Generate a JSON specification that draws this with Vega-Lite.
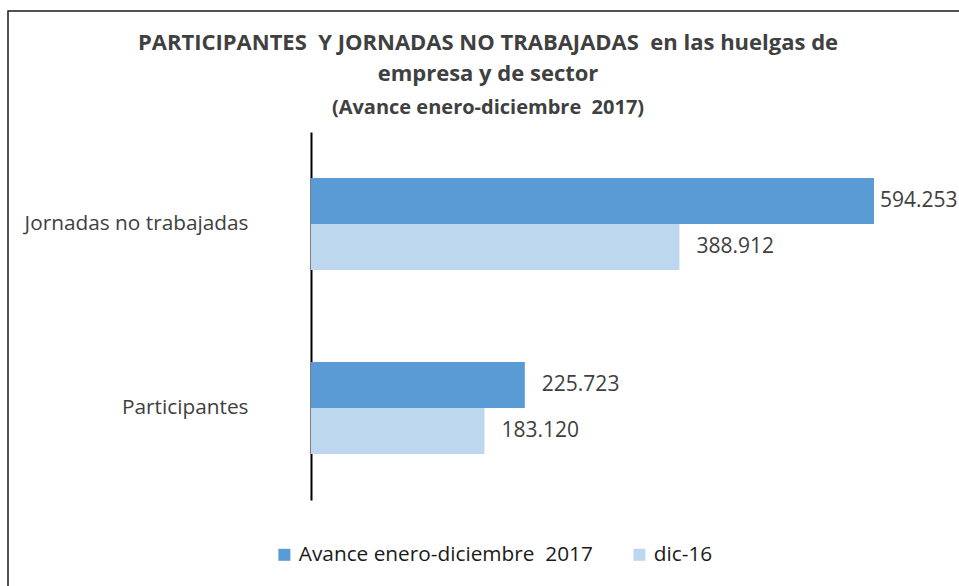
{
  "$schema": "https://vega.github.io/schema/vega-lite/v6.json",
  "width": 960,
  "height": 580,
  "padding": {"left": 8, "top": 11, "right": 0, "bottom": 0},
  "autosize": {"type": "pad"},
  "background": "white",
  "title": {
    "text": ["PARTICIPANTES\u00a0 Y JORNADAS NO TRABAJADAS\u00a0 en las huelgas de", "empresa y de sector"],
    "subtitle": "(Avance enero-diciembre\u00a0 2017)",
    "font": "Open Sans",
    "fontSize": 22,
    "fontWeight": "bold",
    "color": "#404040",
    "lineHeight": 31.5,
    "subtitleFont": "Open Sans",
    "subtitleFontSize": 20,
    "subtitleFontWeight": "bold",
    "subtitleColor": "#404040",
    "subtitlePadding": 12,
    "anchor": "middle",
    "baseline": "top",
    "offset": -108
  },
  "data": {
    "values": [
      {"categoria": "Jornadas no trabajadas", "serie": "Avance enero-diciembre  2017", "valor": 594253},
      {"categoria": "Jornadas no trabajadas", "serie": "dic-16", "valor": 388912},
      {"categoria": "Participantes", "serie": "Avance enero-diciembre  2017", "valor": 225723},
      {"categoria": "Participantes", "serie": "dic-16", "valor": 183120}
    ]
  },
  "encoding": {
    "y": {
      "field": "categoria",
      "type": "nominal",
      "sort": ["Jornadas no trabajadas", "Participantes"],
      "scale": {"range": [121, 489], "paddingInner": 0, "paddingOuter": 0},
      "axis": {
        "title": null,
        "offset": -303,
        "domainColor": "#000000",
        "domainWidth": 2,
        "ticks": false,
        "tickSize": 0,
        "labelPadding": 63,
        "labelLimit": 400,
        "labelFont": "Open Sans",
        "labelFontSize": 20.8,
        "labelColor": "#404040"
      }
    },
    "yOffset": {
      "field": "serie",
      "type": "nominal",
      "sort": ["Avance enero-diciembre  2017", "dic-16"],
      "scale": {"paddingInner": 0, "paddingOuter": 1.067}
    },
    "x": {
      "field": "valor",
      "type": "quantitative",
      "scale": {"domain": [-319800, 693500], "nice": false, "zero": false},
      "axis": null
    }
  },
  "layer": [
    {
      "mark": {"type": "bar"},
      "encoding": {
        "color": {
          "field": "serie",
          "type": "nominal",
          "sort": ["Avance enero-diciembre  2017", "dic-16"],
          "scale": {"domain": ["Avance enero-diciembre  2017", "dic-16"], "range": ["#5B9BD5", "#BDD7EE"]},
          "legend": {
            "title": null,
            "orient": "none",
            "direction": "horizontal",
            "legendX": 266,
            "legendY": 533,
            "symbolType": "square",
            "symbolSize": 144,
            "symbolStrokeWidth": 0,
            "labelFont": "Open Sans",
            "labelFontSize": 20.8,
            "labelColor": "#1a1a1a",
            "labelOffset": 4,
            "labelLimit": 400,
            "labelExpr": "replace(datum.label, '  ', '\u00a0 ')",
            "columnPadding": 36
          }
        }
      }
    },
    {
      "transform": [{"filter": "datum.valor > 500000"}],
      "mark": {"type": "text", "align": "left", "baseline": "middle", "dx": 6, "font": "Open Sans", "fontSize": 21, "color": "#404040"},
      "encoding": {"text": {"field": "valor", "type": "quantitative", "format": ",d"}}
    },
    {
      "transform": [{"filter": "datum.valor <= 500000"}],
      "mark": {"type": "text", "align": "left", "baseline": "middle", "dx": 17, "font": "Open Sans", "fontSize": 21, "color": "#404040"},
      "encoding": {"text": {"field": "valor", "type": "quantitative", "format": ",d"}}
    }
  ],
  "config": {
    "view": {"stroke": "#1a1a1a", "strokeWidth": 1.5},
    "locale": {"number": {"decimal": ",", "thousands": ".", "grouping": [3], "currency": ["", " €"]}}
  }
}
